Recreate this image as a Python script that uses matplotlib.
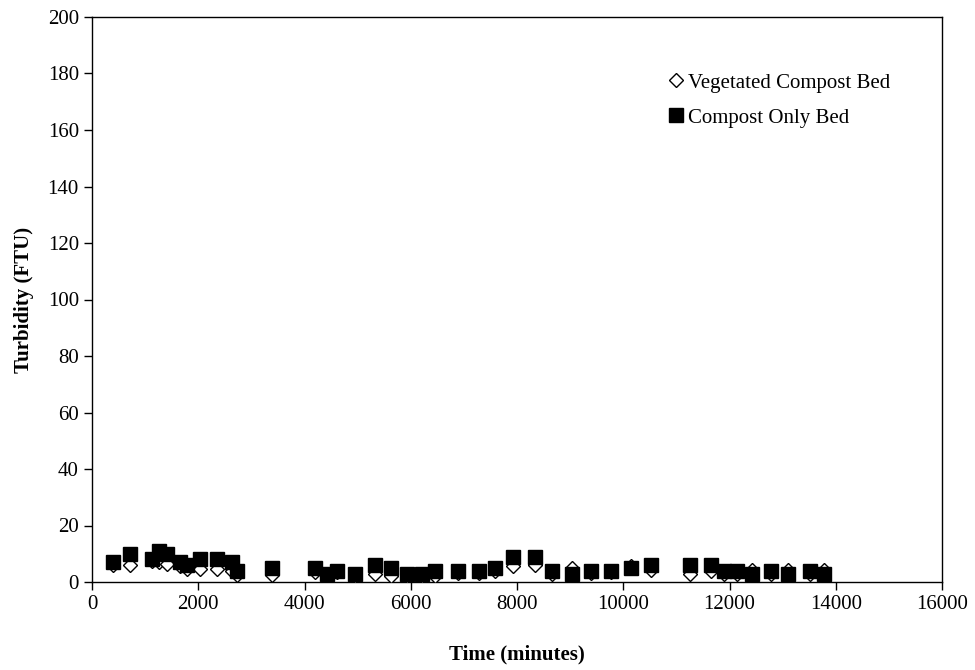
import numpy as np
import matplotlib
matplotlib.use("Agg")
import matplotlib.pyplot as plt
from matplotlib.lines import Line2D

# Tiempo de muestreo (minutos)
tiempo = [400, 720, 1130, 1270, 1410, 1660, 1790, 2040, 2350, 2640, 2730,
          3380, 4200, 4430, 4620, 4950, 5330, 5620, 5920, 6210, 6460, 6880,
          7290, 7580, 7930, 8330, 8650, 9040, 9390, 9770, 10140, 10520,
          11260, 11650, 11900, 12140, 12420, 12790, 13110, 13510, 13780]

# Turbidez (FTU)
vegetado = [6, 6, 7.5, 7, 6.5, 5.5, 4.5, 4.5, 4.5, 4, 2.5,
            2.4, 3.4, 2.5, 3.4, 2.2, 3, 2.2, 2, 2, 2.2, 3.1,
            3.1, 4, 5.7, 6, 3, 4.8, 3.1, 3.5, 5.7, 4.2,
            2.8, 4, 2.8, 3, 4.2, 3, 4.2, 3, 4.2]
solo_compost = [7, 10, 8, 11, 10, 7, 6, 8, 8, 7, 4,
                5, 5, 3, 4, 3, 6, 5, 3, 3, 4, 4,
                4, 5, 9, 9, 4, 3, 4, 4, 5, 6,
                6, 6, 4, 4, 3, 4, 3, 4, 3]

etiquetas = ["Vegetated Compost Bed", "Compost Only Bed"]

plt.rcParams['font.family'] = ['Liberation Serif', 'DejaVu Serif']

fig = plt.figure(figsize=(9.75, 6.7), dpi=100)
ax = fig.add_axes([92/975, 1 - 582/670, 850/975, 565/670])

ax.plot(tiempo, vegetado, linestyle='none', marker='D', markersize=7.6,
        markerfacecolor='white', markeredgecolor='black', markeredgewidth=1.0, zorder=3)
ax.plot(tiempo, solo_compost, linestyle='none', marker='s', markersize=10.5,
        markerfacecolor='black', markeredgecolor='black', markeredgewidth=1.0, zorder=4)

ax.set_xlim(0, 16000)
ax.set_ylim(0, 200)
ax.set_xticks(np.arange(0, 16001, 2000))
ax.set_yticks(np.arange(0, 201, 20))
ax.tick_params(direction='out', length=6, width=1, labelsize=15, top=False, right=False)
for s in ax.spines.values():
    s.set_linewidth(1)
    s.set_color('black')

ax.set_xlabel("Time (minutes)", fontsize=15, fontweight='bold', labelpad=22)
ax.set_ylabel("Turbidity (FTU)", fontsize=15, fontweight='bold', labelpad=10)

handles = [
    Line2D([], [], linestyle='none', marker='D', markersize=7.6,
           markerfacecolor='white', markeredgecolor='black'),
    Line2D([], [], linestyle='none', marker='s', markersize=10.5,
           markerfacecolor='black', markeredgecolor='black'),
]
ax.legend(handles, etiquetas, loc='upper left', bbox_to_anchor=(0.672, 0.901),
          frameon=False, fontsize=15, handletextpad=0.0, handlelength=1.2,
          labelspacing=0.75, borderaxespad=0, borderpad=0)

fig.savefig("out.png", dpi=100)
